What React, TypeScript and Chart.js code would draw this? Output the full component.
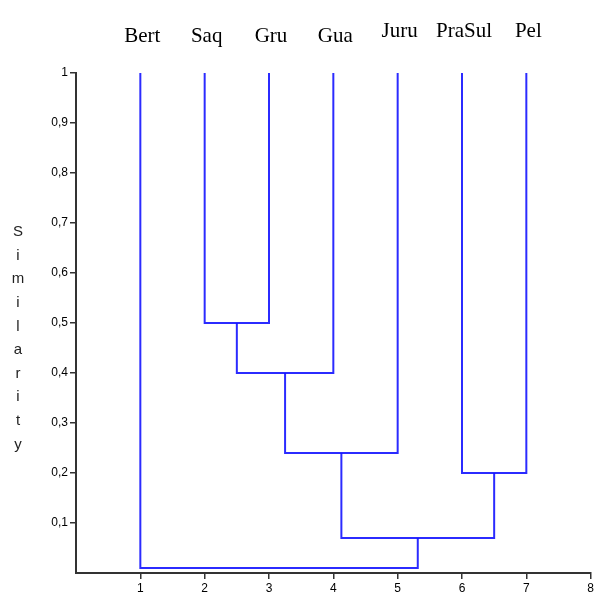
import React, { useEffect, useRef } from "react";
import { Chart, registerables } from "chart.js";

Chart.register(...registerables);

// Leaves (x positions 1..7)
const leafLabels = ["Bert", "Saq", "Gru", "Gua", "Juru", "PraSul", "Pel"];
const leafHeight = 1;
// Merges: clusters 1..7 are leaves, merge k creates cluster 8+k
const mergeA = [2, 8, 9, 6, 10, 1];
const mergeB = [3, 4, 5, 7, 11, 12];
const mergeHeight = [0.5, 0.4, 0.24, 0.2, 0.07, 0.01];
const yAxisTitle = "Similarity";
const xTicks = [0, 1, 2, 3, 4, 5, 6, 7, 8];
const yTicks = [0, 0.1, 0.2, 0.3, 0.4, 0.5, 0.6, 0.7, 0.8, 0.9, 1];

const LINE = "rgba(20,20,255,0.9)";

function buildLinks() {
  const xs: Record<number, number> = {};
  const hs: Record<number, number> = {};
  leafLabels.forEach((_, i) => {
    xs[i + 1] = i + 1;
    hs[i + 1] = leafHeight;
  });
  const links: { x: number; y: number }[][] = [];
  mergeA.forEach((a, k) => {
    const b = mergeB[k];
    const h = mergeHeight[k];
    const id = leafLabels.length + 1 + k;
    links.push([
      { x: xs[a], y: hs[a] },
      { x: xs[a], y: h },
      { x: xs[b], y: h },
      { x: xs[b], y: hs[b] },
    ]);
    xs[id] = (xs[a] + xs[b]) / 2;
    hs[id] = h;
  });
  return links;
}

const labelPlugin = {
  id: "dendroLabels",
  afterDraw(chart: any) {
    const ctx = chart.ctx;
    const xs = chart.scales.x;
    ctx.save();
    ctx.fillStyle = "#000";
    ctx.font = "21px 'Liberation Serif', serif";
    ctx.textAlign = "center";
    ctx.textBaseline = "alphabetic";
    leafLabels.forEach((lab, i) => {
      const px = xs.getPixelForValue(i + 1);
      ctx.fillText(lab, px + 2, i >= 4 ? 37 : 42);
    });
    ctx.font = "15px 'Liberation Sans', sans-serif";
    ctx.fillStyle = "#222";
    ctx.textBaseline = "middle";
    const letters = yAxisTitle.split("");
    const step = 23.6;
    const startY = 232;
    letters.forEach((ch, i) => {
      ctx.fillText(ch, 18, startY + i * step);
    });
    ctx.restore();
  },
};

const tickColor = (c: any) => (c.tick && c.tick.value === 0 ? "rgba(0,0,0,0)" : "#333");

export default function App() {
  const ref = useRef<HTMLCanvasElement>(null);
  useEffect(() => {
    if (!ref.current) return;
    const links = buildLinks();
    const chart = new Chart(ref.current, {
      type: "scatter",
      data: {
        datasets: links.map((pts) => ({
          data: pts,
          showLine: true,
          borderColor: LINE,
          borderWidth: 2,
          pointRadius: 0,
          fill: false,
          tension: 0,
        })),
      },
      options: {
        responsive: false,
        animation: false,
        layout: { padding: { top: 73, right: 4, left: 0, bottom: 0 } },
        plugins: { legend: { display: false }, tooltip: { enabled: false } },
        scales: {
          x: {
            type: "linear",
            min: 0,
            max: 8,
            afterBuildTicks: (s: any) => {
              s.ticks = xTicks.map((v) => ({ value: v }));
            },
            afterFit: (s: any) => {
              s.height = 28;
            },
            ticks: {
              color: "#000",
              font: { family: "'Liberation Sans', sans-serif", size: 12 },
              padding: 2,
              callback: (v: any) => (v === 0 ? "" : String(v)),
            },
            grid: { drawOnChartArea: false, drawTicks: true, tickLength: 6, color: tickColor, lineWidth: 1.5 },
            border: { display: true, color: "#333", width: 2 },
          },
          y: {
            type: "linear",
            min: 0,
            max: 1,
            afterBuildTicks: (s: any) => {
              s.ticks = yTicks.map((v) => ({ value: v }));
            },
            afterFit: (s: any) => {
              s.width = 76;
            },
            ticks: {
              color: "#000",
              font: { family: "'Liberation Sans', sans-serif", size: 12 },
              padding: 2,
              callback: (v: any) =>
                v === 0 ? "" : v === 1 ? "1" : Number(v).toFixed(1).replace(".", ","),
            },
            grid: { drawOnChartArea: false, drawTicks: true, tickLength: 6, color: tickColor, lineWidth: 1.5 },
            border: { display: true, color: "#333", width: 2 },
          },
        },
      },
      plugins: [labelPlugin],
    });
    return () => chart.destroy();
  }, []);
  return (
    <div style={{ position: "fixed", left: 0, top: 0, width: 596, height: 601, background: "#fff" }}>
      <canvas ref={ref} width={596} height={601} />
    </div>
  );
}
